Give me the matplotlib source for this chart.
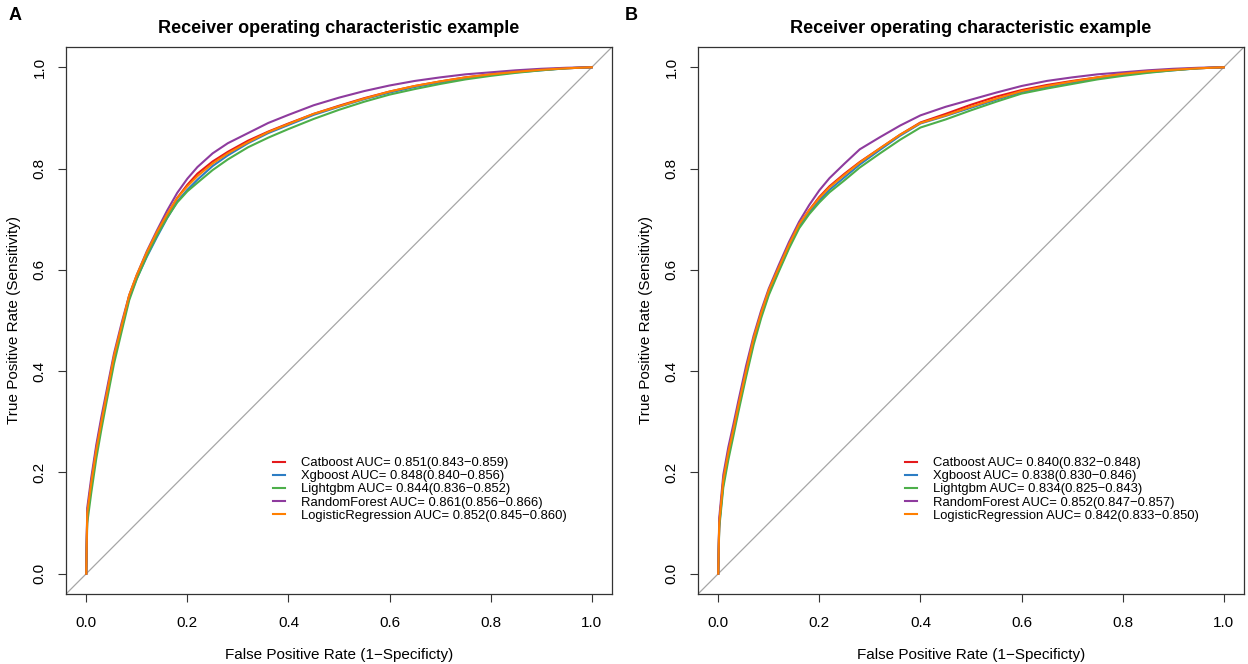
import matplotlib
matplotlib.use('Agg')
import matplotlib.pyplot as plt

plt.rcParams['font.family'] = ['Liberation Sans', 'DejaVu Sans']

models = ['Catboost', 'Xgboost', 'Lightgbm', 'RandomForest', 'LogisticRegression']
colors = ['#E41A1C', '#2D7DC4', '#4DAF4A', '#8E3B9E', '#FF7F00']

auc_a = ['0.851(0.843\u22120.859)', '0.848(0.840\u22120.856)', '0.844(0.836\u22120.852)',
         '0.861(0.856\u22120.866)', '0.852(0.845\u22120.860)']
auc_b = ['0.840(0.832\u22120.848)', '0.838(0.830\u22120.846)', '0.834(0.825\u22120.843)',
         '0.852(0.847\u22120.857)', '0.842(0.833\u22120.850)']

# false positive rate grid
fpr = [0, 0.002, 0.01, 0.02, 0.03, 0.04, 0.055, 0.07, 0.085, 0.1, 0.12, 0.14, 0.16, 0.18,
       0.2, 0.22, 0.25, 0.28, 0.32, 0.36, 0.4, 0.45, 0.5, 0.55, 0.6, 0.65, 0.7, 0.75,
       0.8, 0.85, 0.9, 0.95, 1.0]

# panel A, true positive rates
tpr_a_cat = [0, 0.12, 0.18, 0.248, 0.302, 0.352, 0.428, 0.488, 0.548, 0.588, 0.632, 0.672, 0.708,
             0.742, 0.768, 0.79, 0.814, 0.833, 0.855, 0.873, 0.889, 0.908, 0.924, 0.939, 0.952,
             0.963, 0.972, 0.98, 0.986, 0.991, 0.995, 0.998, 1.0]
tpr_a_xgb = [0, 0.115, 0.175, 0.242, 0.298, 0.348, 0.425, 0.485, 0.545, 0.583, 0.626, 0.665, 0.702,
             0.735, 0.758, 0.778, 0.805, 0.826, 0.85, 0.87, 0.886, 0.906, 0.922, 0.937, 0.95,
             0.961, 0.97, 0.978, 0.985, 0.99, 0.994, 0.998, 1.0]
tpr_a_lgb = [0, 0.1, 0.16, 0.228, 0.285, 0.338, 0.415, 0.478, 0.54, 0.582, 0.628, 0.668, 0.703,
             0.733, 0.755, 0.772, 0.797, 0.818, 0.842, 0.861, 0.878, 0.898, 0.916, 0.932, 0.946,
             0.957, 0.967, 0.976, 0.983, 0.989, 0.994, 0.998, 1.0]
tpr_a_rf = [0, 0.13, 0.19, 0.255, 0.31, 0.36, 0.435, 0.495, 0.55, 0.59, 0.637, 0.678, 0.717,
            0.752, 0.78, 0.803, 0.83, 0.85, 0.87, 0.89, 0.906, 0.925, 0.94, 0.953, 0.964,
            0.973, 0.98, 0.986, 0.99, 0.994, 0.997, 0.999, 1.0]
tpr_a_lr = [0, 0.12, 0.18, 0.245, 0.3, 0.352, 0.43, 0.49, 0.55, 0.59, 0.635, 0.675, 0.71,
            0.742, 0.765, 0.785, 0.81, 0.83, 0.852, 0.872, 0.888, 0.908, 0.923, 0.938, 0.952,
            0.963, 0.972, 0.98, 0.986, 0.991, 0.995, 0.998, 1.0]

# panel B, true positive rates
tpr_b_cat = [0, 0.1, 0.183, 0.238, 0.284, 0.332, 0.399, 0.463, 0.514, 0.558, 0.604, 0.648, 0.688,
             0.718, 0.744, 0.765, 0.79, 0.813, 0.84, 0.867, 0.891, 0.908, 0.926, 0.942, 0.955,
             0.965, 0.973, 0.98, 0.987, 0.992, 0.995, 0.998, 1.0]
tpr_b_xgb = [0, 0.095, 0.178, 0.233, 0.279, 0.327, 0.394, 0.458, 0.51, 0.554, 0.6, 0.645, 0.685,
             0.713, 0.737, 0.758, 0.783, 0.808, 0.837, 0.865, 0.889, 0.904, 0.92, 0.936, 0.951,
             0.961, 0.97, 0.978, 0.985, 0.99, 0.994, 0.998, 1.0]
tpr_b_lgb = [0, 0.09, 0.17, 0.225, 0.272, 0.32, 0.388, 0.452, 0.505, 0.55, 0.597, 0.642, 0.682,
             0.71, 0.733, 0.753, 0.777, 0.802, 0.83, 0.857, 0.881, 0.897, 0.915, 0.932, 0.948,
             0.958, 0.967, 0.976, 0.983, 0.989, 0.994, 0.998, 1.0]
tpr_b_rf = [0, 0.11, 0.195, 0.25, 0.295, 0.342, 0.41, 0.47, 0.52, 0.563, 0.61, 0.655, 0.695,
            0.728, 0.757, 0.781, 0.81, 0.838, 0.862, 0.885, 0.905, 0.922, 0.936, 0.95, 0.963,
            0.973, 0.98, 0.986, 0.99, 0.994, 0.997, 0.999, 1.0]
tpr_b_lr = [0, 0.1, 0.185, 0.24, 0.285, 0.333, 0.4, 0.465, 0.515, 0.56, 0.605, 0.65, 0.69,
            0.718, 0.742, 0.763, 0.788, 0.812, 0.84, 0.867, 0.89, 0.905, 0.922, 0.938, 0.953,
            0.963, 0.972, 0.98, 0.987, 0.992, 0.995, 0.998, 1.0]

tpr_a = [tpr_a_cat, tpr_a_xgb, tpr_a_lgb, tpr_a_rf, tpr_a_lr]
tpr_b = [tpr_b_cat, tpr_b_xgb, tpr_b_lgb, tpr_b_rf, tpr_b_lr]


def draw_panel(ax, tprs, aucs):
    ax.set_xlim(-0.04, 1.04)
    ax.set_ylim(-0.04, 1.04)
    ax.plot([-0.04, 1.04], [-0.04, 1.04], color='#A6A6A6', lw=0.9, zorder=1)
    for name, col, t, a in zip(models, colors, tprs, aucs):
        ax.plot(fpr, t, color=col, lw=1.5, label=name + ' AUC= ' + a, zorder=2)
    ticks = [0, 0.2, 0.4, 0.6, 0.8, 1.0]
    ax.set_xticks(ticks)
    ax.set_yticks(ticks)
    ax.set_xticklabels(['%.1f' % t for t in ticks])
    ax.set_yticklabels(['%.1f' % t for t in ticks], rotation=90, va='center')
    ax.tick_params(direction='out', length=6, width=0.8, labelsize=11, color='#333333')
    ax.tick_params(axis='x', pad=10)
    ax.tick_params(axis='y', pad=8)
    for s in ax.spines.values():
        s.set_linewidth(0.9)
        s.set_color('#333333')
    ax.set_xlabel('False Positive Rate (1\u2212Specificty)', fontsize=11, labelpad=13)
    ax.set_ylabel('True Positive Rate (Sensitivity)', fontsize=11, labelpad=8)
    ax.set_title('Receiver operating characteristic example', fontsize=13,
                 fontweight='bold', pad=10)
    ax.legend(loc='upper left', bbox_to_anchor=(0.379, 0.25), frameon=False, fontsize=9.4,
              handlelength=0.9, handletextpad=1.25, labelspacing=0.07, borderpad=0,
              borderaxespad=0)


fig = plt.figure(figsize=(12.48, 6.64), dpi=100)
ax1 = fig.add_axes([66 / 1248, 70 / 664, 546 / 1248, 547 / 664])
ax2 = fig.add_axes([698 / 1248, 70 / 664, 546 / 1248, 547 / 664])
draw_panel(ax1, tpr_a, auc_a)
draw_panel(ax2, tpr_b, auc_b)

fig.text(9 / 1248, 1 - 7 / 664, 'A', fontsize=13, fontweight='bold', va='top')
fig.text(625 / 1248, 1 - 7 / 664, 'B', fontsize=13, fontweight='bold', va='top')

fig.savefig('out.png', dpi=100)
